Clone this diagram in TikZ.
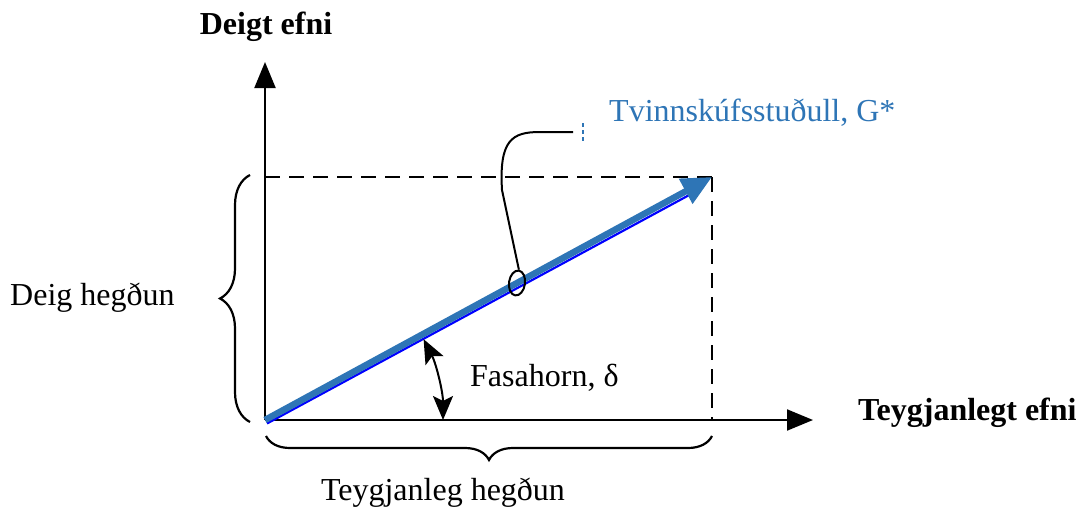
\documentclass[tikz,border=0pt]{standalone}
\usepackage{fontspec}
\setmainfont{Liberation Serif}
\usetikzlibrary{arrows.meta,decorations.pathreplacing,shapes.geometric}
\definecolor{gblue}{HTML}{2E75B6}
\begin{document}
\begin{tikzpicture}[x=1pt,y=-1pt,
  lbl/.style={font=\fontsize{32}{36}\selectfont, inner sep=0pt},
  axis/.style={line width=2pt, -{Triangle[length=26pt,width=21pt]}},
  dashline/.style={line width=1.8pt, dash pattern=on 15pt off 9pt},
  bracestyle/.style={line width=2.2pt, decorate, decoration={brace, amplitude=#1}},
  anghead/.tip={Stealth[length=24pt,width=20pt,inset=5pt]},
]
\useasboundingbox (0,0) rectangle (1087,511);
% coordinates
\coordinate (O) at (265,420);
\coordinate (Ytip) at (265,62);
\coordinate (Xtip) at (813,420);
\coordinate (G) at (712,177);
\coordinate (Gx) at (712,420);
\coordinate (Gy) at (265,177);
% axes
\draw[axis] (O) -- (Ytip);
\draw[axis] (O) -- (Xtip);
% dashed
\draw[dashline] (Gy) -- (G);
\draw[dashline] (G) -- (Gx);
% vector
\draw[blue, line width=2.2pt] ([shift={(2,3.5)}]O) -- ([shift={(2,3.5)}]690,190);
\draw[gblue, line width=6.5pt, -{Triangle[length=30pt,width=27pt]}] (O) -- (G);
% braces
\draw[bracestyle=30pt] (250,422) -- (250,175);
\draw[bracestyle=24pt] (712,436) -- (266,436);
% angle arc
\draw[line width=2pt, anghead-anghead]
  ([shift={(-27:178)}]O) arc[start angle=-27, end angle=0, radius=178];
% callout
\node[ellipse, draw, line width=2pt, minimum width=16pt, minimum height=25pt, inner sep=0pt, rotate=-8] (E) at (517,283) {};
\draw[line width=2pt] (E.north) -- (502,190) .. controls (499,140) and (512,132) .. (540,132) -- (573,132);
\coordinate (m1) at (583,123);
\coordinate (m2) at (583,141);
\draw[gblue, line width=1.2pt, dash pattern=on 4pt off 3pt] (m1) -- (m2);
% labels
\node[lbl, anchor=west, text=gblue] (gl) at (609,113) {Tvinnskúfsstuðull, G*};
\node[lbl, font=\fontsize{32}{36}\selectfont\bfseries] (ya) at (266,27) {Deigt efni};
\node[lbl, anchor=west, font=\fontsize{32}{36}\selectfont\bfseries] (xa) at (858,413) {Teygjanlegt efni};
\node[lbl, anchor=west] (dh) at (10,298) {Deig hegðun};
\node[lbl] (th) at (443,493) {Teygjanleg hegðun};
\node[lbl, anchor=west] (fa) at (470,378) {Fasahorn, δ};
\end{tikzpicture}
\end{document}
